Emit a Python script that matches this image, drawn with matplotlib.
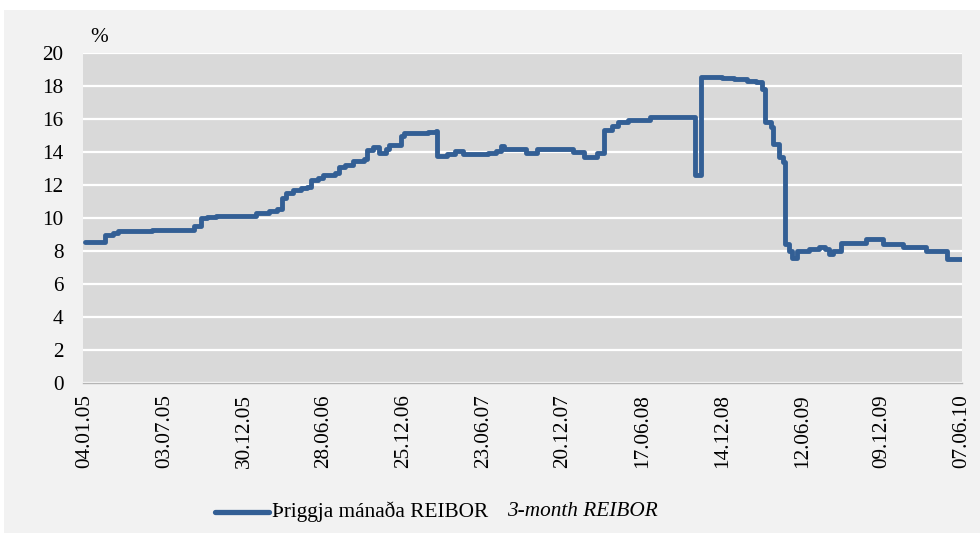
import matplotlib
matplotlib.use("Agg")
import matplotlib.pyplot as plt
import pandas as pd
from matplotlib.lines import Line2D
from matplotlib.patches import Rectangle

# 3-month REIBOR, dates where the fixing changes level
change_dates = [
    "2005-01-04", "2005-02-18", "2005-03-08", "2005-03-19", "2005-06-04",
    "2005-09-08", "2005-09-24", "2005-10-08", "2005-10-28", "2005-12-12",
    "2006-01-26", "2006-02-24", "2006-03-14", "2006-03-25", "2006-04-03",
    "2006-04-19", "2006-05-07", "2006-05-21", "2006-05-30", "2006-06-14",
    "2006-06-26", "2006-07-23", "2006-08-01", "2006-08-14", "2006-09-01",
    "2006-09-26", "2006-10-03", "2006-10-16", "2006-10-30", "2006-11-15",
    "2006-11-21", "2006-12-18", "2006-12-25", "2007-02-19", "2007-03-09",
    "2007-03-11", "2007-04-03", "2007-04-21", "2007-05-09", "2007-07-04",
    "2007-07-22", "2007-08-02", "2007-08-09", "2007-09-28", "2007-10-22",
    "2008-01-11", "2008-02-05", "2008-03-05", "2008-03-21", "2008-04-08",
    "2008-04-22", "2008-05-14", "2008-07-03", "2008-10-12", "2008-10-26",
    "2008-12-12", "2009-01-10", "2009-02-08", "2009-02-28", "2009-03-14",
    "2009-03-19", "2009-04-03", "2009-04-08", "2009-04-21", "2009-04-30",
    "2009-05-05", "2009-05-14", "2009-05-21", "2009-06-01", "2009-06-28",
    "2009-07-20", "2009-08-03", "2009-08-12", "2009-08-21", "2009-09-08",
    "2009-11-03", "2009-12-11", "2010-01-25", "2010-03-18", "2010-05-04",
    "2010-06-07",
]
reibor_3m = [
    8.55, 8.95, 9.1, 9.2, 9.3,
    9.5, 10.0, 10.05, 10.1, 10.15,
    10.3, 10.45, 10.55, 11.2, 11.5,
    11.7, 11.8, 11.9, 12.3, 12.45,
    12.6, 12.7, 13.1, 13.2, 13.45,
    13.55, 14.1, 14.3, 13.95, 14.2,
    14.45, 15.0, 15.15, 15.2, 15.25,
    13.75, 13.85, 14.05, 13.9, 13.95,
    14.05, 14.35, 14.2, 13.95, 14.2,
    14.0, 13.7, 13.95, 15.35, 15.6,
    15.8, 15.95, 16.1, 12.6, 18.55,
    18.5, 18.4, 18.3, 18.25, 17.8,
    15.8, 15.5, 14.5, 13.7, 13.4,
    8.4, 8.0, 7.6, 8.0, 8.15,
    8.25, 8.1, 7.8, 8.0, 8.5,
    8.75, 8.45, 8.25, 8.0, 7.5,
    7.5,
]
tick_labels = [
    "04.01.05", "03.07.05", "30.12.05", "28.06.06", "25.12.06", "23.06.07",
    "20.12.07", "17.06.08", "14.12.08", "12.06.09", "09.12.09", "07.06.10",
]
y_ticks = [0, 2, 4, 6, 8, 10, 12, 14, 16, 18, 20]

LINE_COLOR = "#335f95"

plt.rcParams["font.family"] = ["Liberation Serif", "DejaVu Serif"]
plt.rcParams["font.size"] = 15.3

fig = plt.figure(figsize=(9.8, 5.33), dpi=100, facecolor="white")
fig.patches.append(Rectangle((4 / 980, 0), 1, (533 - 10) / 533, transform=fig.transFigure,
                             facecolor="#f2f2f2", edgecolor="none", zorder=-10))

ax = fig.add_axes([83 / 980, 1 - 383 / 533, (962 - 83) / 980, (383 - 53) / 533])
ax.set_facecolor("#d9d9d9")

dates = pd.to_datetime(change_dates)
ax.plot(dates, reibor_3m, drawstyle="steps-post", color=LINE_COLOR, lw=3.5,
        solid_joinstyle="round", solid_capstyle="round", zorder=3)

ticks = pd.to_datetime(tick_labels, format="%d.%m.%y")
ax.set_xticks(ticks)
ax.set_xticklabels(tick_labels, rotation=90, va="top", ha="center")
ax.set_xlim(ticks[0] - pd.Timedelta(days=4), ticks[-1] + pd.Timedelta(days=1))

ax.set_yticks(y_ticks)
ax.set_ylim(0, 20)
ax.yaxis.grid(True, color="white", lw=1.6)
ax.set_axisbelow(True)
ax.tick_params(axis="both", length=0, colors="black")
ax.tick_params(axis="y", pad=14)
ax.tick_params(axis="x", pad=8)

for side in ("top", "right", "left"):
    ax.spines[side].set_visible(False)
ax.spines["bottom"].set_color("#b5b5b5")
ax.spines["bottom"].set_linewidth(1.0)

fig.text(90 / 980, 1 - 37 / 533, "%", ha="left", va="center")

# legend drawn by hand: two-part label, second part in italics
ly = 1 - 512 / 533
fig.add_artist(Line2D([215 / 980, 269 / 980], [ly, ly], transform=fig.transFigure,
                      color=LINE_COLOR, lw=3.8, solid_capstyle="round"))
fig.text(272 / 980, ly, "Þriggja mánaða REIBOR", ha="left", va="center")
fig.text(507 / 980, ly, "3-month REIBOR", ha="left", va="center", style="italic")

fig.savefig("out.png", dpi=100, facecolor=fig.get_facecolor())
